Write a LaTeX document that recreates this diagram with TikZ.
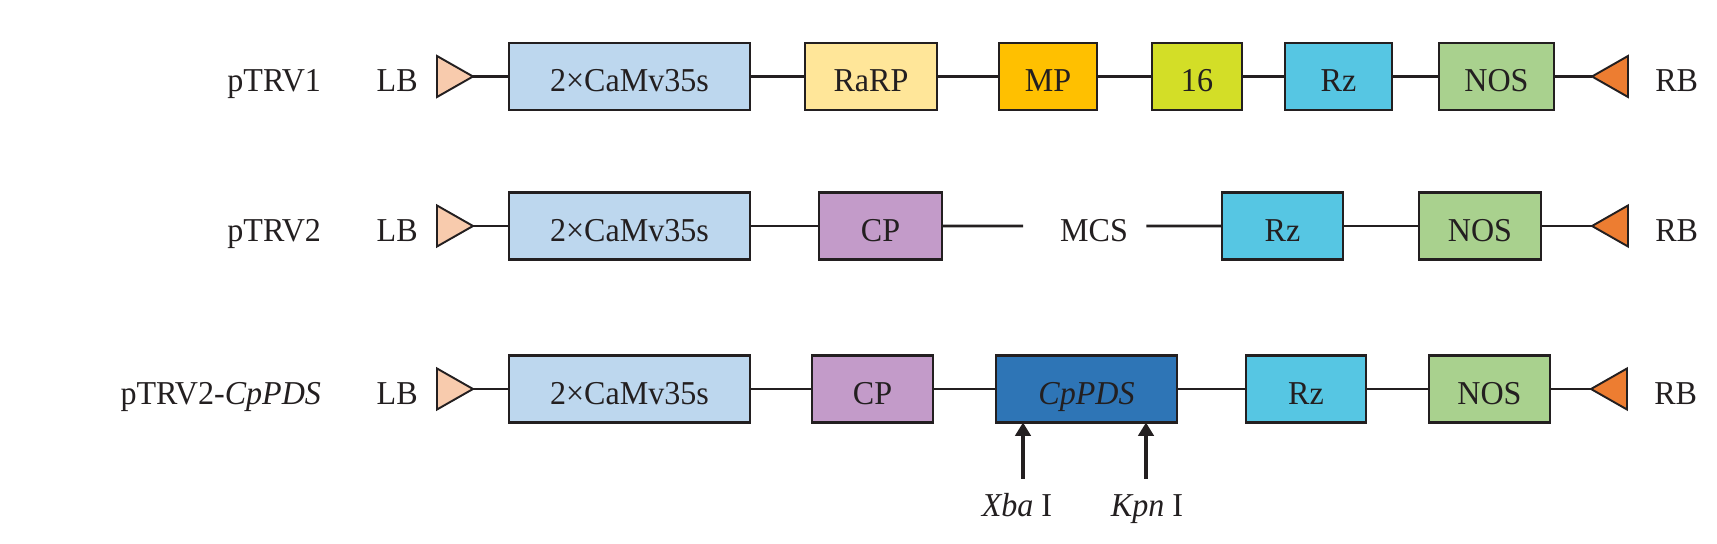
\documentclass[tikz,border=0pt]{standalone}
\usepackage{fontspec}
\setmainfont{Liberation Serif}[FakeStretch=0.96]
\usetikzlibrary{positioning, arrows.meta, shapes.geometric, calc}

\definecolor{textgri}{HTML}{231F20}
\definecolor{camv}{HTML}{BDD7EE}
\definecolor{rarp}{HTML}{FFE699}
\definecolor{mpcol}{HTML}{FFC000}
\definecolor{p16col}{HTML}{D3DE27}
\definecolor{rzcol}{HTML}{56C6E3}
\definecolor{noscol}{HTML}{A9D18E}
\definecolor{cpcol}{HTML}{C39BC9}
\definecolor{pdscol}{HTML}{2E75B6}
\definecolor{lbcol}{HTML}{F8CBAD}
\definecolor{rbcol}{HTML}{ED7D31}

\begin{document}
\begin{tikzpicture}[
        font=\fontsize{19}{22}\selectfont,
        tekst/.style={text height=17.1pt, text depth=0pt, inner xsep=0pt, inner ysep=3.9pt, text=textgri},
        bloc/.style={draw=textgri, line width=1.6pt, minimum height=13.4mm, inner sep=0pt, outer sep=0pt,
            text height=17.1pt, text depth=0pt, text=textgri},
        stanga/.style={isosceles triangle, isosceles triangle stretches, draw=textgri, line width=1.1pt,
            minimum width=8.2mm, minimum height=7.2mm, inner sep=0pt, outer sep=0pt, fill=lbcol},
        dreapta/.style={stanga, shape border rotate=180, fill=rbcol},
        linie/.style={line width=1.6pt, draw=textgri},
        sageata/.style={-{Triangle[length=2.7mm, width=3.1mm]}, line width=1.8pt, draw=textgri, fill=textgri},
    ]
        \useasboundingbox (0,0) rectangle (343.4mm,108.8mm);
        % pTRV1
        \node[stanga, anchor=apex] (lb1) at (94.6mm, 93.5mm) {};
        \node[bloc, fill=camv, minimum width=48.2mm, right=7.2mm of lb1.apex] (camv1) {2×CaMv35s};
        \node[bloc, fill=rarp, minimum width=26.4mm, right=11mm of camv1] (rarp1) {RaRP};
        \node[bloc, fill=mpcol, minimum width=19.6mm, right=12.4mm of rarp1] (mp1) {MP};
        \node[bloc, fill=p16col, minimum width=18mm, right=11mm of mp1] (p161) {16};
        \node[bloc, fill=rzcol, minimum width=21.4mm, right=8.6mm of p161] (rz1) {Rz};
        \node[bloc, fill=noscol, minimum width=23mm, right=9.4mm of rz1] (nos1) {NOS};
        \node[dreapta, right=7.6mm of nos1, anchor=apex] (rb1) {};
        \node[tekst, right=5.4mm of rb1.lower side] (rbt1) {RB};
        \node[tekst, left=3.8mm of lb1.lower side] (lbt1) {LB};
        \node[tekst, left=11mm of lbt1] (v1) {pTRV1};
        \foreach \a/\b in {lb1/camv1, camv1/rarp1, rarp1/mp1, mp1/p161, p161/rz1, rz1/nos1, nos1/rb1}
            \draw[linie] (\a) -- (\b);
        % pTRV2
        \node[stanga, anchor=apex] (lb2) at (94.6mm, 63.6mm) {};
        \node[bloc, fill=camv, minimum width=48.2mm, right=7.2mm of lb2.apex] (camv2) {2×CaMv35s};
        \node[bloc, fill=cpcol, minimum width=24.6mm, right=13.8mm of camv2] (cp2) {CP};
        \node[bloc, fill=rzcol, minimum width=24.2mm, right=56mm of cp2] (rz2) {Rz};
        \node[bloc, fill=noscol, minimum width=24.4mm, right=15.2mm of rz2] (nos2) {NOS};
        \node[dreapta, right=10.2mm of nos2, anchor=apex] (rb2) {};
        \node[tekst, right=5.4mm of rb2.lower side] (rbt2) {RB};
        \node[tekst, left=3.8mm of lb2.lower side] (lbt2) {LB};
        \node[tekst, left=11mm of lbt2] (v2) {pTRV2};
        \coordinate (mcsL) at ($(cp2.east)!0.29!(rz2.west)$);
        \coordinate (mcsR) at ($(cp2.east)!0.73!(rz2.west)$);
        \node[tekst] (mcs) at ($(cp2.east)!0.543!(rz2.west)$) {MCS};
        \foreach \a/\b in {lb2/camv2, camv2/cp2, cp2/mcsL, mcsR/rz2, rz2/nos2, nos2/rb2}
            \draw[linie] (\a) -- (\b);
        % pTRV2-CpPDS
        \node[stanga, anchor=apex] (lb3) at (94.6mm, 31mm) {};
        \node[bloc, fill=camv, minimum width=48.2mm, right=7.2mm of lb3.apex] (camv3) {2×CaMv35s};
        \node[bloc, fill=cpcol, minimum width=24.2mm, right=12.4mm of camv3] (cp3) {CP};
        \node[bloc, fill=pdscol, minimum width=36.2mm, right=12.6mm of cp3] (pds) {\itshape CpPDS};
        \node[bloc, fill=rzcol, minimum width=24mm, right=13.8mm of pds] (rz3) {Rz};
        \node[bloc, fill=noscol, minimum width=24.2mm, right=12.6mm of rz3] (nos3) {NOS};
        \node[dreapta, right=8.2mm of nos3, anchor=apex] (rb3) {};
        \node[tekst, right=5.4mm of rb3.lower side] (rbt3) {RB};
        \node[tekst, left=3.8mm of lb3.lower side] (lbt3) {LB};
        \node[tekst, left=11mm of lbt3] (v3) {pTRV2-\textit{CpPDS}};
        \foreach \a/\b in {lb3/camv3, camv3/cp3, cp3/pds, pds/rz3, rz3/nos3, nos3/rb3}
            \draw[linie] (\a) -- (\b);
        % situsuri de restrictie
        \coordinate (xbaS) at ([xshift=5.4mm]pds.south west);
        \coordinate (kpnS) at ([xshift=-6.2mm]pds.south east);
        \node[tekst, below=11.3mm of xbaS, xshift=-1.2mm] (xba) {\textit{Xba} I};
        \node[tekst, below=11.3mm of kpnS, xshift=0.2mm] (kpn) {\textit{Kpn} I};
        \draw[sageata] (xba.north -| xbaS) -- (xbaS);
        \draw[sageata] (kpn.north -| kpnS) -- (kpnS);
    \end{tikzpicture}
\end{document}
